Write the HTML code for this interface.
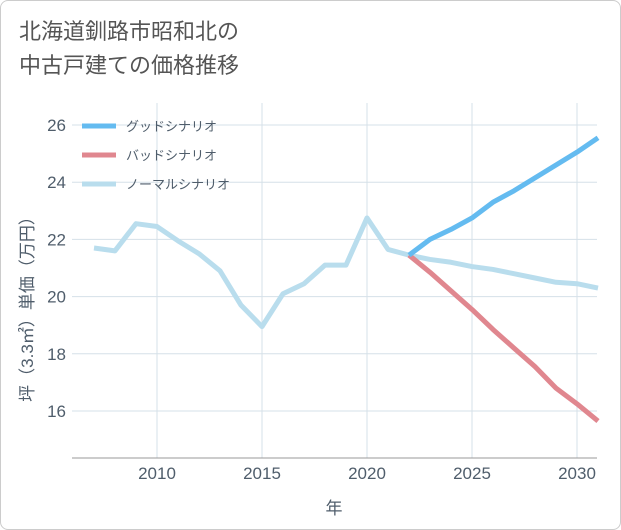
<!DOCTYPE html>
<html><head><meta charset="utf-8"><style>
body{margin:0;background:#fff;}
#wrap{width:619px;height:528px;border:1px solid #ccc;border-radius:8px;position:relative;font-family:"Liberation Sans","Noto Sans CJK JP",sans-serif;overflow:hidden;}
#title{position:absolute;left:18px;top:14px;font-size:22px;line-height:34px;color:#555;}
</style></head><body>
<div id="wrap">
<div id="title">北海道釧路市昭和北の<br>中古戸建ての価格推移</div>
<svg id="chart" width="621" height="530" style="position:absolute;left:-1px;top:-1px"></svg>
</div>
<script>
const years=[2007,2008,2009,2010,2011,2012,2013,2014,2015,2016,2017,2018,2019,2020,2021,2022,2023,2024,2025,2026,2027,2028,2029,2030,2031];
const normal=[21.7,21.6,22.55,22.45,21.95,21.5,20.9,19.7,18.95,20.1,20.45,21.1,21.1,22.75,21.65,21.45,21.3,21.2,21.05,20.95,20.8,20.65,20.5,20.45,20.3];
const futureYears=[2022,2023,2024,2025,2026,2027,2028,2029,2030,2031];
const good=[21.45,22.0,22.35,22.75,23.3,23.7,24.15,24.6,25.05,25.55];
const bad=[21.45,20.85,20.2,19.55,18.85,18.2,17.55,16.8,16.25,15.65];
const xTicks=[2010,2015,2020,2025,2030];
const yTicks=[16,18,20,22,24,26];
const legendLabels=["グッドシナリオ","バッドシナリオ","ノーマルシナリオ"];
const colors=["#64bbf0","#e0878f","#b9dded"];
const L=72,R=597,T=103,B=458;
const x=v=>157+(v-2010)*21;
const y=v=>125+(26-v)*28.6;
const svg=document.getElementById('chart');
const NS='http://www.w3.org/2000/svg';
function mk(t,a,txt){const e=document.createElementNS(NS,t);for(const k in a)e.setAttribute(k,a[k]);if(txt!==undefined)e.textContent=txt;svg.appendChild(e);return e;}
yTicks.forEach(v=>{const g=mk('line',{x1:L,x2:R,y1:y(v),y2:y(v),stroke:'#d5e0e8'});

const t=mk('text',{x:L-6,y:y(v)+6,'text-anchor':'end','font-size':17,fill:'#4f5d6b'},v);
});
xTicks.forEach(v=>{const g=mk('line',{x1:x(v),x2:x(v),y1:T,y2:B,stroke:'#d5e0e8'});

const t=mk('text',{x:x(v),y:B+21,'text-anchor':'middle','font-size':17,fill:'#4f5d6b'},v);
});
const ax=mk('line',{x1:L,x2:R,y1:B,y2:B,stroke:'#999'});

const xt=mk('text',{x:334,y:514,'text-anchor':'middle','font-size':17,fill:'#4f5d6b'},'年');

const yt=mk('text',{x:0,y:0,'text-anchor':'middle','font-size':17,fill:'#4f5d6b',transform:'translate(33,305) rotate(-90)'},'坪（3.3㎡）単価（万円）');

function line(xs,vs,c,name){const p=mk('polyline',{points:xs.map((v,i)=>x(v)+','+y(vs[i])).join(' '),fill:'none',stroke:c,'stroke-width':5,'stroke-linejoin':'round'});
}
line(years,normal,colors[2],'normal-line');
line(futureYears,bad,colors[1],'bad-line');
line(futureYears,good,colors[0],'good-line');
legendLabels.forEach((s,i)=>{const yy=126+i*29;
const l=mk('line',{x1:82,x2:116,y1:yy,y2:yy,stroke:colors[i],'stroke-width':5});

const t=mk('text',{x:126,y:yy+5,'font-size':13,fill:'#4f5d6b'},s);
});
</script>
</body></html>
